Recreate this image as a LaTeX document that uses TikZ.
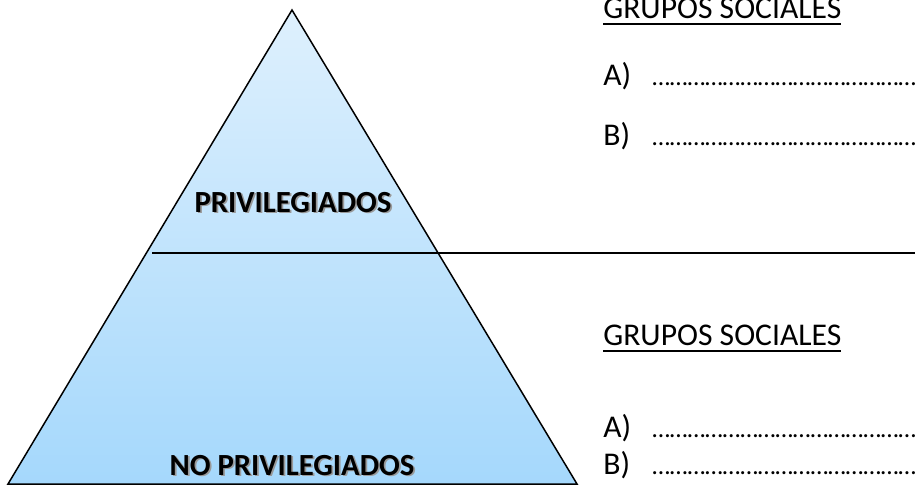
\documentclass[tikz,border=0pt]{standalone}
\usepackage{fontspec}
\setmainfont{Carlito}
\usetikzlibrary{positioning}

\definecolor{cimablue}{RGB}{222,240,253}
\definecolor{baseblue}{RGB}{165,216,252}
\newcommand{\sombra}[1]{\rlap{\hspace{1pt}\raisebox{-1pt}{\color{black!40}#1}}#1}
\newcommand{\sublinha}[1]{\setbox0\hbox{#1}\rlap{\raisebox{-3.9pt}{\rule{\wd0}{1.1pt}}}\box0}

\begin{document}
\begin{tikzpicture}[x=0.02cm,y=-0.02cm,
	txt/.style={inner sep=0,anchor=base west,font=\fontsize{18}{22}\selectfont},
	pontos/.style={inner sep=0,anchor=base west,font=\fontsize{14.5}{18}\selectfont},
	rotulo/.style={inner sep=0,font=\fontsize{17.5}{21}\selectfont\bfseries}]
				\clip (0,0) rectangle (915,487);
				\coordinate (apex) at (292,10);
				\coordinate (esq) at (8,484);
				\coordinate (dir) at (577,484);
				\shade[top color=cimablue,bottom color=baseblue] (apex) -- (esq) -- (dir) -- cycle;
				\draw[line width=0.85pt,line join=miter] (apex) -- (esq) -- (dir) -- cycle;
				\coordinate (corte) at (152,253);
				\coordinate (fim) at (915,253);
				\draw[line width=0.8pt] (corte) -- (fim);
				\node[rotulo] (priv) at (293,203) {\sombra{PRIVILEGIADOS}};
				\node[rotulo] (nopriv) at (292,466) {\sombra{NO PRIVILEGIADOS}};
				% grupos de cima
				\node[txt] (g1) at (603,18) {\sublinha{GRUPOS SOCIALES}};
				\node[txt] (a1) at (603,85) {A)};
				\node[pontos] (pa1) at (652,85) {……………………………………………};
				\node[txt] (b1) at (603,145) {B)};
				\node[pontos] (pb1) at (652,145) {……………………………………………};
				% grupos de baixo
				\node[txt] (g2) at (603,345) {\sublinha{GRUPOS SOCIALES}};
				\node[txt] (a2) at (603,437) {A)};
				\node[pontos] (pa2) at (652,437) {……………………………………………};
				\node[txt] (b2) at (603,474) {B)};
				\node[pontos] (pb2) at (652,474) {……………………………………………};
			\end{tikzpicture}
\end{document}
